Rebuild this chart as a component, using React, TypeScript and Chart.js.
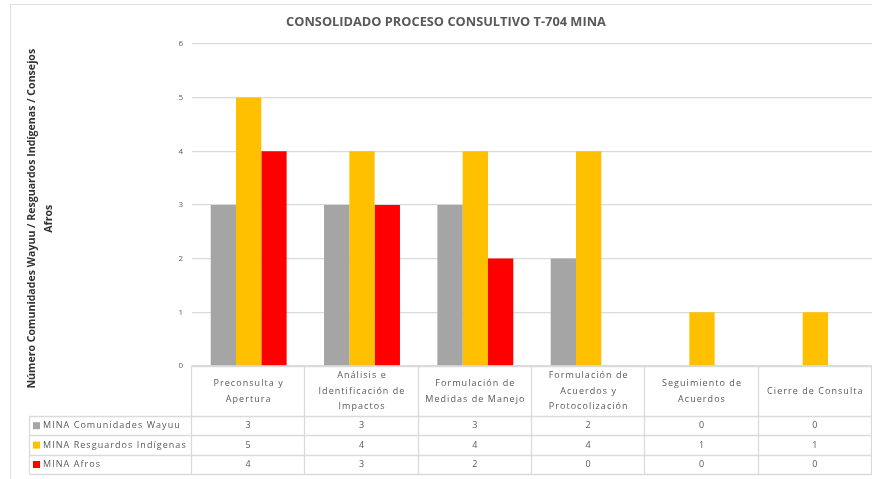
import React, { useEffect, useRef } from 'react';
import { Chart, registerables } from 'chart.js';

Chart.register(...registerables);

const chartTitle = 'CONSOLIDADO PROCESO CONSULTIVO T-704 MINA';
const yAxisTitle = ['Número Comunidades Wayuu / Resguardos Indígenas / Consejos', 'Afros'];
const categories = [
  ['Preconsulta y', 'Apertura'],
  ['Análisis e', 'Identificación de', 'Impactos'],
  ['Formulación de', 'Medidas de Manejo'],
  ['Formulación de', 'Acuerdos y', 'Protocolización'],
  ['Seguimiento de', 'Acuerdos'],
  ['Cierre de Consulta'],
];
const seriesNames = ['MINA Comunidades Wayuu', 'MINA Resguardos Indígenas', 'MINA Afros'];
const wayuuValues = [3, 3, 3, 2, 0, 0];
const resguardosValues = [5, 4, 4, 4, 1, 1];
const afrosValues = [4, 3, 2, 0, 0, 0];
const yMin = 0;
const yMax = 6;
const yStep = 1;

const seriesColors = ['#a5a5a5', '#ffc000', '#ff0000'];
const FONT = '"Open Sans", "DejaVu Sans", sans-serif';
const TEXT = '#595959';
const LINE = '#dadada';
// trailing padding shifts the centred axis title down to match the reference
const TITLE_PAD = '\u00A0'.repeat(10);

const tablePlugin = {
  id: 'dataTable',
  afterDraw(chart: any) {
    const { ctx, chartArea } = chart;
    const xs = chart.scales.x;
    const labels = chart.data.labels as any[];
    const datasets = chart.data.datasets as any[];
    const n = labels.length;
    const colW = (chartArea.right - chartArea.left) / n;
    const top = Math.round(chartArea.bottom) + 0.5;
    const headH = 49.5;
    const rowH = 19.4;
    const legendLeft = 29.5;
    const rowsTop = top + headH;
    const bottom = rowsTop + rowH * datasets.length;

    ctx.save();
    ctx.strokeStyle = LINE;
    ctx.lineWidth = 1.3;
    const line = (x1: number, y1: number, x2: number, y2: number) => {
      ctx.beginPath();
      ctx.moveTo(x1, y1);
      ctx.lineTo(x2, y2);
      ctx.stroke();
    };
    line(chartArea.left, top, chartArea.right, top);
    for (let r = 0; r <= datasets.length; r++) {
      const y = Math.round(rowsTop + r * rowH) + 0.5;
      line(legendLeft, y, chartArea.right, y);
    }
    for (let i = 0; i <= n; i++) {
      const x = Math.round(chartArea.left + i * colW) - 0.5;
      line(x, top - 1, x, bottom);
    }
    line(legendLeft, rowsTop, legendLeft, bottom);

    ctx.font = `9px ${FONT}`;
    try { (ctx as any).letterSpacing = '1.05px'; } catch (e) {}
    ctx.fillStyle = TEXT;
    ctx.textBaseline = 'middle';
    ctx.textAlign = 'center';
    const lh = 15.5;
    labels.forEach((lab, i) => {
      const cx = xs.getPixelForValue(i);
      const lines = Array.isArray(lab) ? lab : [lab];
      const cy = top + headH / 2;
      lines.forEach((t: string, k: number) => {
        ctx.fillText(t, cx, cy + (k - (lines.length - 1) / 2) * lh);
      });
    });

    datasets.forEach((ds, r) => {
      const cy = rowsTop + r * rowH + rowH / 2;
      ctx.fillStyle = ds.backgroundColor;
      ctx.fillRect(33, cy - 3.5, 7, 7);
      ctx.fillStyle = TEXT;
      ctx.textAlign = 'left';
      ctx.fillText(ds.label, 43, cy);
      ctx.textAlign = 'center';
      (ds.data as number[]).forEach((v, i) => {
        ctx.fillText(String(v), xs.getPixelForValue(i), cy);
      });
    });
    ctx.restore();
  },
};

export default function App() {
  const canvasRef = useRef<HTMLCanvasElement | null>(null);

  useEffect(() => {
    const canvas = canvasRef.current;
    if (!canvas) return;
    const chart = new Chart(canvas, {
      type: 'bar',
      data: {
        labels: categories,
        datasets: [
          { label: seriesNames[0], data: wayuuValues, backgroundColor: seriesColors[0] },
          { label: seriesNames[1], data: resguardosValues, backgroundColor: seriesColors[1] },
          { label: seriesNames[2], data: afrosValues, backgroundColor: seriesColors[2] },
        ],
      },
      options: {
        responsive: false,
        animation: false,
        devicePixelRatio: 1,
        layout: { padding: { left: 20, right: 0, top: 0, bottom: 113 } },
        datasets: {
          bar: { categoryPercentage: 0.67, barPercentage: 1.0, borderWidth: 0 },
        },
        plugins: {
          legend: { display: false },
          tooltip: { enabled: false },
          title: {
            display: true,
            text: chartTitle,
            color: TEXT,
            font: { family: FONT, size: 12.8, weight: 'bold' },
            padding: { top: 14.5, bottom: 14 },
          },
        },
        scales: {
          x: {
            ticks: { display: false },
            grid: { display: false, drawTicks: false },
            border: { display: false },
          },
          y: {
            min: yMin,
            max: yMax,
            afterFit: (scale: any) => {
              scale.width = 172;
            },
            ticks: {
              stepSize: yStep,
              padding: 9,
              color: TEXT,
              font: { family: FONT, size: 8 },
            },
            grid: { color: LINE, lineWidth: 1.3, drawTicks: false },
            border: { display: false },
            title: {
              display: true,
              text: yAxisTitle.map((t) => t + TITLE_PAD),
              color: '#333333',
              font: { family: FONT, size: 10.6, weight: 'bold', lineHeight: 1.56 },
              padding: { top: 4, bottom: 0 },
            },
          },
        },
      },
      plugins: [tablePlugin],
    });
    return () => chart.destroy();
  }, []);

  return (
    <div style={{ position: 'absolute', left: 0, top: 0, width: 872, height: 479, background: '#ffffff', overflow: 'hidden' }}>
      <div
        style={{
          position: 'absolute',
          left: 10,
          top: 4,
          width: 900,
          height: 500,
          borderLeft: '1.5px solid #e0e0e0',
          borderTop: '1.5px solid #e0e0e0',
        }}
      />
      <canvas ref={canvasRef} width={872} height={479} style={{ position: 'absolute', left: 0, top: 0, display: 'block' }} />
    </div>
  );
}
